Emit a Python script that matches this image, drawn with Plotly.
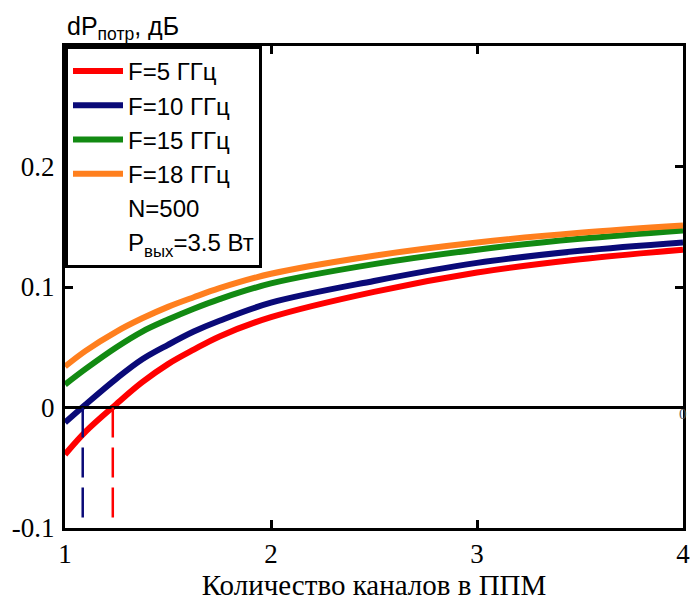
import plotly.graph_objects as go

# Data
n_channels = [1.0, 1.1, 1.25, 1.375, 1.5, 1.625, 1.75, 2.0, 2.5, 3.0, 3.5, 4.0]
dp_5ghz  = [-0.039, -0.020, 0.003, 0.021, 0.036, 0.048, 0.059, 0.075, 0.096, 0.112, 0.123, 0.131]
dp_10ghz = [-0.0125, 0.0025, 0.024, 0.040, 0.052, 0.063, 0.072, 0.087, 0.105, 0.120, 0.130, 0.137]
dp_15ghz = [0.019, 0.032, 0.050, 0.063, 0.073, 0.082, 0.090, 0.103, 0.119, 0.131, 0.140, 0.147]
dp_18ghz = [0.034, 0.047, 0.063, 0.074, 0.0835, 0.0915, 0.099, 0.111, 0.126, 0.137, 0.145, 0.151]

series_names = ["F=5 ГГц", "F=10 ГГц", "F=15 ГГц", "F=18 ГГц"]
series_values = [dp_5ghz, dp_10ghz, dp_15ghz, dp_18ghz]
series_colors = ["#ff0000", "#0a0a78", "#128a12", "#ff7f1e"]

# zero crossings (dashed markers) for 10 GHz and 5 GHz
crossing_x = [1.086, 1.232]
crossing_colors = ["#0a0a78", "#ff0000"]
crossing_bottom = -0.093

x_ticks = [1, 2, 3, 4]
y_ticks = [-0.1, 0, 0.1, 0.2]
y_tick_text = ["-0.1", "0", "0.1", "0.2"]

SERIF = "Liberation Serif, Times New Roman, serif"
SANS = "Liberation Sans, Arial, sans-serif"

fig = go.Figure()

for i, (name, vals, col) in enumerate(zip(series_names, series_values, series_colors)):
    fig.add_trace(go.Scatter(
        x=n_channels, y=vals, mode="lines", name=name,
        line=dict(color=col, width=6, shape="spline", smoothing=1.0),
        legendgroup=f"g{i}",
    ))

# extra legend text lines
fig.add_trace(go.Scatter(x=[None], y=[None], mode="lines", name="N=500",
                         line=dict(color="rgba(0,0,0,0)", width=0), legendgroup="g4"))
fig.add_trace(go.Scatter(x=[None], y=[None], mode="lines", name="P<sub>вых</sub>=3.5 Вт",
                         line=dict(color="rgba(0,0,0,0)", width=0), legendgroup="g5"))

# zero line
fig.add_trace(go.Scatter(x=[1, 4], y=[0, 0], mode="lines", showlegend=False,
                         line=dict(color="black", width=3), hoverinfo="skip"))

for cx, cc in zip(crossing_x, crossing_colors):
    fig.add_trace(go.Scatter(x=[cx, cx], y=[0, crossing_bottom], mode="lines", showlegend=False,
                             line=dict(color=cc, width=2.5, dash="30px,10px"), hoverinfo="skip"))

axis_common = dict(
    showline=True, linecolor="black", linewidth=3, mirror="allticks",
    ticks="inside", ticklen=8, tickwidth=3, tickcolor="black",
    showgrid=False, zeroline=False,
    tickfont=dict(family=SERIF, size=27, color="black"),
)

fig.update_xaxes(range=[1, 4], tickvals=x_ticks, ticktext=[str(t) for t in x_ticks],
                 title=dict(text="Количество каналов в ППМ",
                            font=dict(family=SERIF, size=29, color="black"),
                            standoff=4),
                 **axis_common)
fig.update_yaxes(range=[-0.1, 0.3], tickvals=y_ticks, ticktext=y_tick_text, ticklabelstandoff=2,
                 **axis_common)

fig.add_annotation(x=0, y=1, xref="paper", yref="paper", xanchor="left", yanchor="bottom",
                   text="dP<sub>потр</sub>, дБ", showarrow=False, xshift=0, yshift=0,
                   font=dict(family=SANS, size=25, color="black"))

fig.add_annotation(x=4, y=0, xref="x", yref="y", xanchor="right", yanchor="top",
                   text="0", showarrow=False, xshift=6, yshift=4,
                   font=dict(family=SERIF, size=15, color="#555555"))

fig.update_layout(
    width=695, height=604,
    margin=dict(l=65, r=5, t=46, b=76),
    paper_bgcolor="white", plot_bgcolor="white",
    showlegend=True,
    legend=dict(x=0, y=1, xanchor="left", yanchor="top",
                bgcolor="white", bordercolor="black", borderwidth=3,
                font=dict(family=SANS, size=24, color="black"),
                tracegroupgap=5, itemwidth=50, traceorder="normal"),
)

fig.write_html("out.html")
